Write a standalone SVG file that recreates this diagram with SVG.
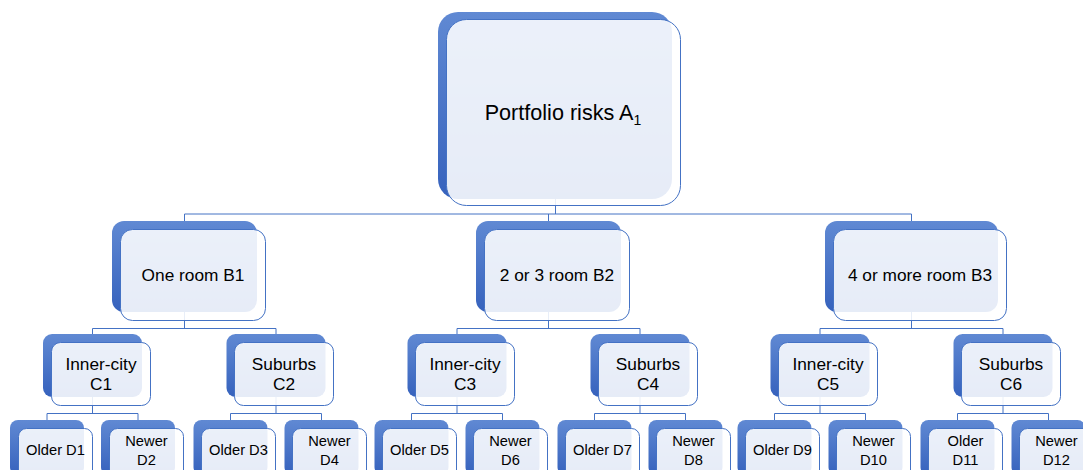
<svg xmlns="http://www.w3.org/2000/svg" width="1083" height="470" viewBox="0 0 1083 470">
<defs>
<linearGradient id="g" x1="0" y1="0" x2="0" y2="1">
<stop offset="0" stop-color="#6089d3"/>
<stop offset="1" stop-color="#3662bd"/>
</linearGradient>
<style>
.back{fill:url(#g);}
.front{fill:#ffffff;fill-opacity:0.88;stroke:#4472c4;stroke-width:1;}
.conn{stroke:#4472c4;stroke-width:1;fill:none;}
text{font-family:"Liberation Sans",Arial,sans-serif;fill:#000;text-anchor:middle;}
.tA{font-size:21.6px;}
.tB{font-size:17.3px;}
.tD{font-size:14.7px;}
</style>
</defs>
<rect width="1083" height="470" fill="#ffffff"/>
<g id="connectors" class="conn">
<path d="M555.5 199V214M184.5 214H911.5M184.5 214V221M548.5 214V221M911.5 214V221"/>
<path d="M184.5 312V328.5M92.5 328.5H276M92.5 328.5V334M276 328.5V334"/>
<path d="M548.5 312V328.5M457 328.5H640M457 328.5V334M640 328.5V334"/>
<path d="M911.5 312V328.5M820 328.5H1003M820 328.5V334M1003 328.5V334"/>
<path d="M92.5 397V413.5M47 413.5H138M47 413.5V420M138 413.5V420"/>
<path d="M276 397V413.5M230.5 413.5H321.5M230.5 413.5V420M321.5 413.5V420"/>
<path d="M457 397V413.5M411.5 413.5H502.5M411.5 413.5V420M502.5 413.5V420"/>
<path d="M640 397V413.5M594.5 413.5H685.5M594.5 413.5V420M685.5 413.5V420"/>
<path d="M820 397V413.5M774.5 413.5H865.5M774.5 413.5V420M865.5 413.5V420"/>
<path d="M1003 397V413.5M957.5 413.5H1048.5M957.5 413.5V420M1048.5 413.5V420"/>
</g>
<g id="A1">
<rect class="back" x="438" y="12" width="234" height="187" rx="20"/>
<rect class="front" x="446.5" y="19.5" width="234" height="186" rx="20"/>
<text class="tA" x="563" y="120">Portfolio risks A<tspan font-size="14px" dy="5">1</tspan></text>
</g>
<g id="B1">
<rect class="back" x="112" y="221" width="145" height="91" rx="12"/>
<rect class="front" x="120.5" y="229.5" width="145" height="91" rx="12"/>
<text class="tB" x="193" y="281">One room B1</text>
</g>
<g id="B2">
<rect class="back" x="476" y="221" width="145" height="91" rx="12"/>
<rect class="front" x="484.5" y="229.5" width="145" height="91" rx="12"/>
<text class="tB" x="557" y="281">2 or 3 room B2</text>
</g>
<g id="B3">
<rect class="back" x="825" y="221" width="173" height="91" rx="12"/>
<rect class="front" x="833.5" y="229.5" width="173" height="91" rx="12"/>
<text class="tB" x="920" y="281">4 or more room B3</text>
</g>
<g id="C1">
<rect class="back" x="43" y="334" width="99" height="63" rx="9"/>
<rect class="front" x="51.5" y="342.5" width="99" height="63" rx="9"/>
<text class="tB" x="101" y="370">Inner-city</text>
<text class="tB" x="101" y="390">C1</text>
</g>
<g id="C2">
<rect class="back" x="226.5" y="334" width="99" height="63" rx="9"/>
<rect class="front" x="234.5" y="342.5" width="99" height="63" rx="9"/>
<text class="tB" x="284" y="370">Suburbs</text>
<text class="tB" x="284" y="390">C2</text>
</g>
<g id="C3">
<rect class="back" x="407.5" y="334" width="99" height="63" rx="9"/>
<rect class="front" x="415.5" y="342.5" width="99" height="63" rx="9"/>
<text class="tB" x="465" y="370">Inner-city</text>
<text class="tB" x="465" y="390">C3</text>
</g>
<g id="C4">
<rect class="back" x="590.5" y="334" width="99" height="63" rx="9"/>
<rect class="front" x="598.5" y="342.5" width="99" height="63" rx="9"/>
<text class="tB" x="648" y="370">Suburbs</text>
<text class="tB" x="648" y="390">C4</text>
</g>
<g id="C5">
<rect class="back" x="770.5" y="334" width="99" height="63" rx="9"/>
<rect class="front" x="778.5" y="342.5" width="99" height="63" rx="9"/>
<text class="tB" x="828" y="370">Inner-city</text>
<text class="tB" x="828" y="390">C5</text>
</g>
<g id="C6">
<rect class="back" x="953.5" y="334" width="99" height="63" rx="9"/>
<rect class="front" x="961.5" y="342.5" width="99" height="63" rx="9"/>
<text class="tB" x="1011" y="370">Suburbs</text>
<text class="tB" x="1011" y="390">C6</text>
</g>
<g id="D1">
<rect class="back" x="10" y="420" width="74" height="55" rx="8"/>
<rect class="front" x="18.5" y="428.5" width="74" height="55" rx="8"/>
<text class="tD" x="55.5" y="455">Older D1</text>
</g>
<g id="D2">
<rect class="back" x="101" y="420" width="74" height="55" rx="8"/>
<rect class="front" x="109.5" y="428.5" width="74" height="55" rx="8"/>
<text class="tD" x="146.5" y="446">Newer</text>
<text class="tD" x="146.5" y="465">D2</text>
</g>
<g id="D3">
<rect class="back" x="193.5" y="420" width="74" height="55" rx="8"/>
<rect class="front" x="201.5" y="428.5" width="74" height="55" rx="8"/>
<text class="tD" x="238.5" y="455">Older D3</text>
</g>
<g id="D4">
<rect class="back" x="284.5" y="420" width="74" height="55" rx="8"/>
<rect class="front" x="292.5" y="428.5" width="74" height="55" rx="8"/>
<text class="tD" x="329.5" y="446">Newer</text>
<text class="tD" x="329.5" y="465">D4</text>
</g>
<g id="D5">
<rect class="back" x="374.5" y="420" width="74" height="55" rx="8"/>
<rect class="front" x="382.5" y="428.5" width="74" height="55" rx="8"/>
<text class="tD" x="419.5" y="455">Older D5</text>
</g>
<g id="D6">
<rect class="back" x="465.5" y="420" width="74" height="55" rx="8"/>
<rect class="front" x="473.5" y="428.5" width="74" height="55" rx="8"/>
<text class="tD" x="510.5" y="446">Newer</text>
<text class="tD" x="510.5" y="465">D6</text>
</g>
<g id="D7">
<rect class="back" x="557.5" y="420" width="74" height="55" rx="8"/>
<rect class="front" x="565.5" y="428.5" width="74" height="55" rx="8"/>
<text class="tD" x="602.5" y="455">Older D7</text>
</g>
<g id="D8">
<rect class="back" x="648.5" y="420" width="74" height="55" rx="8"/>
<rect class="front" x="656.5" y="428.5" width="74" height="55" rx="8"/>
<text class="tD" x="693.5" y="446">Newer</text>
<text class="tD" x="693.5" y="465">D8</text>
</g>
<g id="D9">
<rect class="back" x="737.5" y="420" width="74" height="55" rx="8"/>
<rect class="front" x="745.5" y="428.5" width="74" height="55" rx="8"/>
<text class="tD" x="782.5" y="455">Older D9</text>
</g>
<g id="D10">
<rect class="back" x="828.5" y="420" width="74" height="55" rx="8"/>
<rect class="front" x="836.5" y="428.5" width="74" height="55" rx="8"/>
<text class="tD" x="873.5" y="446">Newer</text>
<text class="tD" x="873.5" y="465">D10</text>
</g>
<g id="D11">
<rect class="back" x="920.5" y="420" width="74" height="55" rx="8"/>
<rect class="front" x="928.5" y="428.5" width="74" height="55" rx="8"/>
<text class="tD" x="965.5" y="446">Older</text>
<text class="tD" x="965.5" y="465">D11</text>
</g>
<g id="D12">
<rect class="back" x="1011.5" y="420" width="74" height="55" rx="8"/>
<rect class="front" x="1019.5" y="428.5" width="74" height="55" rx="8"/>
<text class="tD" x="1056.5" y="446">Newer</text>
<text class="tD" x="1056.5" y="465">D12</text>
</g>
</svg>
